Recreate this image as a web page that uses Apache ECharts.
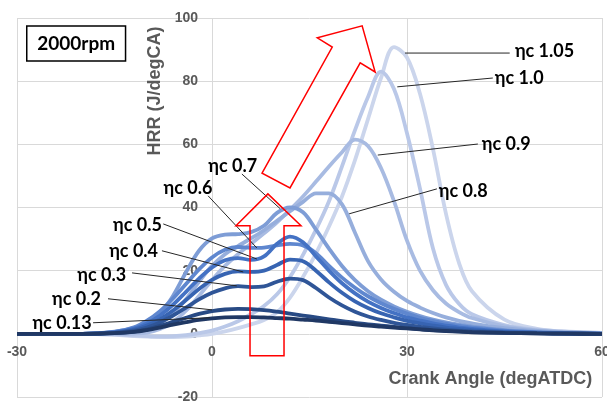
<!DOCTYPE html>
<html>
<head>
<meta charset="utf-8">
<script src="https://cdn.jsdelivr.net/npm/echarts@6/dist/echarts.min.js"></script>
<style>html,body{margin:0;padding:0;background:#fff}#c{width:607px;height:401px}</style>
</head>
<body>
<div id="c"></div>
<script>
// Crank angle sample points (degATDC)
const crankAngle = [-30,-20,-15,-12,-10,-8,-6,-4,-2,0,2,4,6,8,10,12,14,16,18,20,22,24,26,28,30,32,34,36,38,40,45,50,55,60];
const seriesNames = ['ηc 1.05','ηc 1.0','ηc 0.9','ηc 0.8','ηc 0.7','ηc 0.6','ηc 0.5','ηc 0.4','ηc 0.3','ηc 0.2','ηc 0.13'];
const hrr105 = [0,0,-0.3,-0.7,-0.9,-1.0,-1.0,-0.9,-0.5,0,0.8,1.8,3.0,4.4,6.8,11.5,18.0,25.5,34.0,43.5,55.0,68.0,81.0,90.8,87.5,76.0,58.5,38.0,22.5,13.5,4.5,1.6,0.7,0.3];
const hrr100 = [0,0,-0.2,-0.5,-0.7,-0.8,-0.7,-0.4,0.2,1.0,2.3,4.0,6.2,8.8,12.5,18.0,25.0,33.0,42.0,53.0,64.5,75.0,83.0,77.5,63.5,46.0,27.0,15.5,9.5,6.2,2.8,1.3,0.6,0.3];
const hrr090 = [0,0,0,0.1,0.4,1.5,3.8,7.3,12.0,17.0,21.5,25.2,28.5,31.8,35.3,39.3,43.5,48.2,53.0,57.5,61.5,59.5,52.5,42.0,29.5,20.0,13.8,9.6,6.9,5.0,2.4,1.1,0.5,0.25];
const hrr080 = [0,0,0.3,0.8,1.6,3.3,6.5,11.0,16.5,21.5,25.2,27.8,30.2,32.8,35.8,38.8,41.8,44.5,44.5,41.0,32.0,23.0,17.2,13.3,10.4,8.3,6.6,5.2,4.1,3.3,1.8,0.9,0.45,0.2];
const hrr070 = [0,0,0.7,1.8,3.2,6.5,12.0,19.5,26.3,30.2,31.4,31.6,32.2,34.2,38.3,40.0,38.5,33.0,27.0,21.5,17.0,13.5,10.8,8.7,7.0,5.6,4.5,3.6,2.9,2.3,1.2,0.6,0.25,0.1];
const hrr060 = [0,0,0.6,2.1,4.2,7.2,11.2,15.8,20.4,24.2,26.6,27.5,27.2,27.3,28.0,28.5,28.0,25.5,21.5,17.8,14.6,11.9,9.7,7.9,6.4,5.1,4.1,3.2,2.5,2.0,1.0,0.45,0.15,0.05];
const hrr050 = [0,0,0.5,1.7,3.3,5.8,9.2,13.3,17.5,21.0,23.3,24.0,23.4,24.5,28.5,30.8,29.0,24.5,20.0,16.0,12.8,10.2,8.2,6.6,5.2,4.2,3.3,2.6,2.0,1.6,0.8,0.35,0.12,0];
const hrr040 = [0,0,0.4,1.3,2.6,4.6,7.4,10.7,14.2,17.1,19.0,19.8,19.6,20.0,21.8,23.5,23.0,20.0,16.3,13.0,10.3,8.2,6.5,5.2,4.1,3.3,2.6,2.0,1.6,1.2,0.6,0.3,0.1,0];
const hrr030 = [0,0,0.3,1.0,2.0,3.6,5.8,8.3,10.9,13.0,14.4,15.1,14.8,15.0,16.5,17.5,17.0,14.5,11.5,9.0,7.0,5.5,4.4,3.5,2.8,2.2,1.7,1.3,1.0,0.8,0.4,0.2,0.1,0];
const hrr020 = [0,0,0.2,0.7,1.4,2.5,3.8,5.1,6.3,7.2,7.7,7.9,7.8,7.5,7.0,6.4,5.8,5.2,4.6,4.0,3.5,3.0,2.6,2.2,1.8,1.5,1.2,0.95,0.75,0.55,0.3,0.15,0.05,0];
const hrr013 = [0,0,0.2,0.6,1.2,2.0,2.9,3.7,4.4,4.9,5.2,5.3,5.3,5.2,5.0,4.8,4.5,4.2,3.8,3.4,3.0,2.6,2.3,2.0,1.7,1.4,1.1,0.9,0.7,0.5,0.3,0.15,0.05,0];
const seriesValues = [hrr105,hrr100,hrr090,hrr080,hrr070,hrr060,hrr050,hrr040,hrr030,hrr020,hrr013];
const xTicks = [-30, 0, 30, 60];
const yTicks = [-20, 0, 20, 40, 60, 80, 100];

const colors = ['#cbd5ec','#bac8e8','#a8bbe2','#96aedc','#7e9dd6','#5f87cf','#4472c4','#3764b2','#2f5597','#284a84','#203864'];

// Leader-line annotations (data coordinates): label, text anchor, align, line start, line end
const annotations = [
  ['ηc 1.05', [46.6, 89.6], 'left',   [45.8, 88.9], [29.7, 88.9]],
  ['ηc 1.0',  [43.5, 81.0], 'left',   [43.2, 81.0], [28.5, 78.2]],
  ['ηc 0.9',  [41.5, 60.1], 'left',   [40.9, 60.1], [25.5, 56.6]],
  ['ηc 0.8',  [34.9, 45.3], 'left',   [34.6, 45.9], [21.1, 38.0]],
  ['ηc 0.7',  [3.2, 53.2],  'center', [4.6, 50.6],  [10.5, 39.6]],
  ['ηc 0.6',  [-3.7, 46.2], 'center', [-0.6, 43.7], [6.9, 27.2]],
  ['ηc 0.5',  [-7.7, 34.5], 'right',  [-7.5, 34.8], [6.9, 23.7]],
  ['ηc 0.4',  [-8.3, 26.3], 'right',  [-7.7, 26.3], [4.8, 19.6]],
  ['ηc 0.3',  [-13.2, 18.7],'right',  [-12.3, 19.3],[3.8, 15.2]],
  ['ηc 0.2',  [-17.1, 11.1],'right',  [-16.0, 11.1],[0.0, 7.6]],
  ['ηc 0.13', [-18.5, 3.3], 'right',  [-18.3, 3.5], [-0.3, 5.1]]
];
// Red arrows (data coordinates)
const arrowUp = [[5.85,-6.96],[5.85,34.2],[3.69,34.2],[8.6,44.3],[13.69,34.2],[11.08,34.2],[11.08,-6.96]];
const arrowDiag = [[7.7,50.9],[18.5,90.8],[16.2,93.7],[23.1,97.5],[25.1,82.9],[22.8,85.8],[12.0,46.2]];

const lineSeries = seriesNames.map((name, i) => ({
  name: name,
  type: 'line',
  data: crankAngle.map((x, j) => [x, seriesValues[i][j]]),
  smooth: 0.35,
  symbol: 'none',
  lineStyle: { color: colors[i], width: 3.8 },
  z: 2 + i,
  silent: true
}));
const leaderSeries = annotations.map(a => ({
  type: 'line',
  data: [a[3], a[4]],
  symbol: 'none',
  lineStyle: { color: '#262626', width: 1 },
  z: 20,
  silent: true
}));

const chart = echarts.init(document.getElementById('c'), null, { renderer: 'canvas' });
const axisText = { color: '#595959', fontSize: 14, fontWeight: 'bold', fontFamily: 'Liberation Sans' };
chart.setOption({
  animation: false,
  grid: { left: 17, right: 5, top: 18, bottom: 4, containLabel: false, outerBoundsMode: 'none' },
  xAxis: {
    type: 'value', min: xTicks[0], max: xTicks[xTicks.length - 1], interval: 30,
    axisLine: { show: false },
    axisTick: { show: false },
    splitLine: { lineStyle: { color: '#d9d9d9', width: 1 } },
    axisLabel: Object.assign({ margin: 11, showMinLabel: true, showMaxLabel: true }, axisText)
  },
  yAxis: {
    type: 'value', min: yTicks[0], max: yTicks[yTicks.length - 1], interval: 20,
    axisLine: { show: false },
    axisTick: { show: false },
    splitLine: { lineStyle: { color: '#d9d9d9', width: 1 } },
    axisLabel: Object.assign({ margin: 14, showMinLabel: true, showMaxLabel: true }, axisText)
  },
  series: lineSeries.concat(leaderSeries)
});

const P = (pt) => chart.convertToPixel({ gridIndex: 0 }, pt);
// Move axes (labels) onto the zero lines, like the reference
const origin = P([0, 0]);
const corner = P([xTicks[0], yTicks[0]]);
chart.setOption({
  xAxis: { offset: -(corner[1] - origin[1]) },
  yAxis: { offset: -(origin[0] - corner[0]) }
});

const g = [];
annotations.forEach(a => {
  const p = P(a[1]);
  g.push({ type: 'text', x: p[0], y: p[1], z: 100,
    style: { text: a[0], fill: '#000', font: 'bold 18px Lato, "Noto Sans", sans-serif', textAlign: a[2], textVerticalAlign: 'middle' } });
});
[arrowUp, arrowDiag].forEach(arr => {
  g.push({ type: 'polygon', z: 90, shape: { points: arr.map(P) },
    style: { fill: 'none', stroke: '#ff0000', lineWidth: 1.5 } });
});
// Box label
const b1 = P([-28.5, 97.5]), b2 = P([-13.3, 86.4]);
g.push({ type: 'rect', z: 100, shape: { x: b1[0], y: b1[1], width: b2[0] - b1[0], height: b2[1] - b1[1] },
  style: { fill: '#fff', stroke: '#000', lineWidth: 1.5 } });
g.push({ type: 'text', z: 101, x: (b1[0] + b2[0]) / 2, y: (b1[1] + b2[1]) / 2,
  style: { text: '2000rpm', fill: '#000', font: 'bold 19px Lato, "Noto Sans", sans-serif', textAlign: 'center', textVerticalAlign: 'middle' } });
// Axis titles
const yt = P([-8.77, 76.9]);
g.push({ type: 'text', z: 100, x: yt[0], y: yt[1], rotation: Math.PI / 2,
  style: { text: 'HRR (J/degCA)', fill: '#595959', font: 'bold 18px "Liberation Sans", Arial, sans-serif', textAlign: 'center', textVerticalAlign: 'middle' } });
const xt = P([58.5, -14.2]);
g.push({ type: 'text', z: 100, x: xt[0], y: xt[1],
  style: { text: 'Crank Angle (degATDC)', fill: '#595959', font: 'bold 18px "Liberation Sans", Arial, sans-serif', textAlign: 'right', textVerticalAlign: 'middle' } });
chart.setOption({ graphic: g });
</script>
</body>
</html>
